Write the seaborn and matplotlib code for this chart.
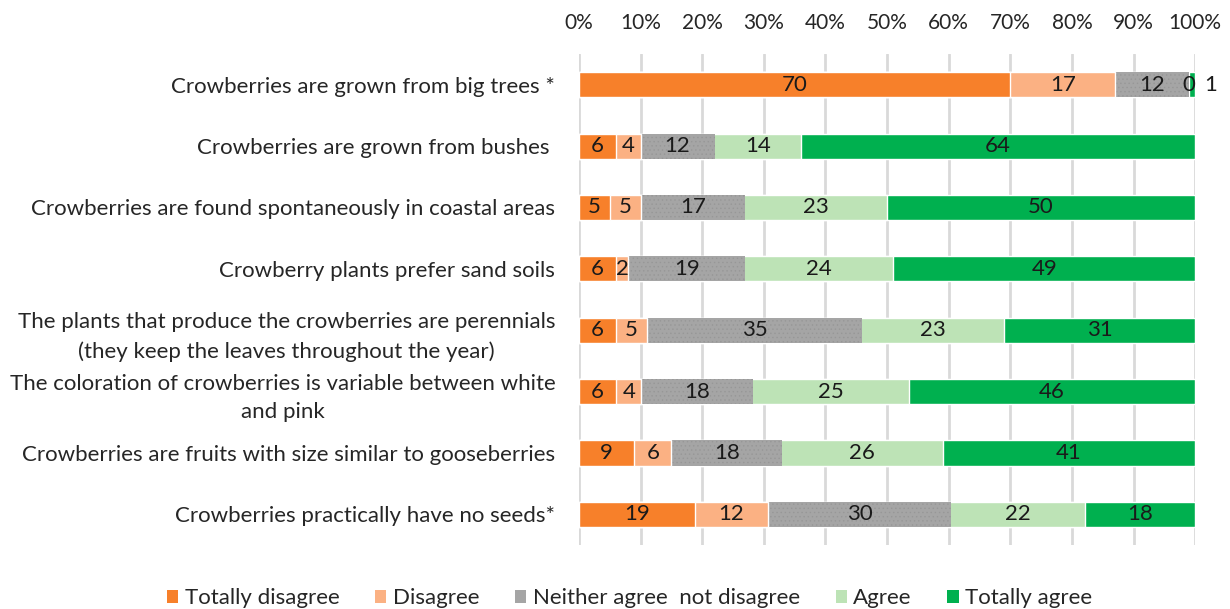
import numpy as np
import pandas as pd
import matplotlib.pyplot as plt
import seaborn as sns

statements = [
    "Crowberries are grown from big trees *",
    "Crowberries are grown from bushes ",
    "Crowberries are found spontaneously in coastal areas",
    "Crowberry plants prefer sand soils",
    "The plants that produce the crowberries are perennials\n(they keep the leaves throughout the year)",
    "The coloration of crowberries is variable between white\nand pink",
    "Crowberries are fruits with size similar to gooseberries",
    "Crowberries practically have no seeds*",
]
levels = ["Totally disagree", "Disagree", "Neither agree  not disagree", "Agree", "Totally agree"]
totally_disagree = [70, 6, 5, 6, 6, 6, 9, 19]
disagree = [17, 4, 5, 2, 5, 4, 6, 12]
neither = [12, 12, 17, 19, 35, 18, 18, 30]
agree = [0, 14, 23, 24, 23, 25, 26, 22]
totally_agree = [1, 64, 50, 49, 31, 46, 41, 18]
colors = ["#F7802A", "#FBB183", "#A5A5A5", "#BDE3B6", "#00B04F"]
pct_ticks = [0, 10, 20, 30, 40, 50, 60, 70, 80, 90, 100]

sns.set_style("white")
plt.rcParams['font.family'] = ['Lato', 'DejaVu Sans']
plt.rcParams['hatch.linewidth'] = 0.5

vals = np.array([totally_disagree, disagree, neither, agree, totally_agree], dtype=float)
shares = vals / vals.sum(axis=0) * 100
cums = shares.cumsum(axis=0)

df = pd.DataFrame({"statement": statements})
for i, lev in enumerate(levels):
    df[lev] = cums[i]

fig = plt.figure(figsize=(12.3, 6.09), dpi=100)
ax = fig.add_axes([0.4707, 0.105, 0.501, 0.8063])

# draw cumulative bars from the widest to the narrowest so they stack
for i in range(len(levels) - 1, -1, -1):
    sns.barplot(data=df, x=levels[i], y="statement", orient="h", color=colors[i],
                width=0.41, saturation=1, ax=ax, zorder=3, label=levels[i])
    if i == 2:
        for p in ax.containers[-1]:
            p.set_hatch("....")
            p.set_edgecolor("#979797")
            p.set_linewidth(0)

# value labels
for r in range(len(statements)):
    for i in range(len(levels)):
        xc = cums[i, r] - shares[i, r] / 2
        if r == 0 and i == 4:
            xc = cums[i, r] + 2.5
        ax.text(xc, r, str(int(vals[i, r])), ha="center", va="center",
                fontsize=16, color="#1a1a1a", zorder=5)

ax.set_xlim(0, 100)
ax.set_ylim(7.5, -0.5)
ax.set_xticks(pct_ticks)
ax.set_xticklabels([f"{t}%" for t in pct_ticks])
ax.xaxis.tick_top()
ax.tick_params(axis="x", length=0, pad=15, labelsize=15, colors="#262626")
ax.tick_params(axis="y", length=0, pad=17, labelsize=16, colors="#262626")
for t in ax.get_yticklabels():
    t.set_multialignment("center")
    t.set_linespacing(1.55)
ax.set_xlabel("")
ax.set_ylabel("")
ax.grid(axis="x", color="#D9D9D9", linewidth=2, zorder=0)
sns.despine(ax=ax, left=True, bottom=True, top=True, right=True)
if ax.legend_:
    ax.legend_.remove()

handles = [plt.Rectangle((0, 0), 1, 1, facecolor=c, edgecolor="none") for c in colors]
fig.legend(handles, levels, loc="lower center", bbox_to_anchor=(0.512, -0.032), ncol=5,
           frameon=False, fontsize=16, handlelength=0.5, handleheight=0.5,
           handletextpad=0.3, columnspacing=1.6, labelcolor="#262626")

fig.savefig("out.png", dpi=100)
